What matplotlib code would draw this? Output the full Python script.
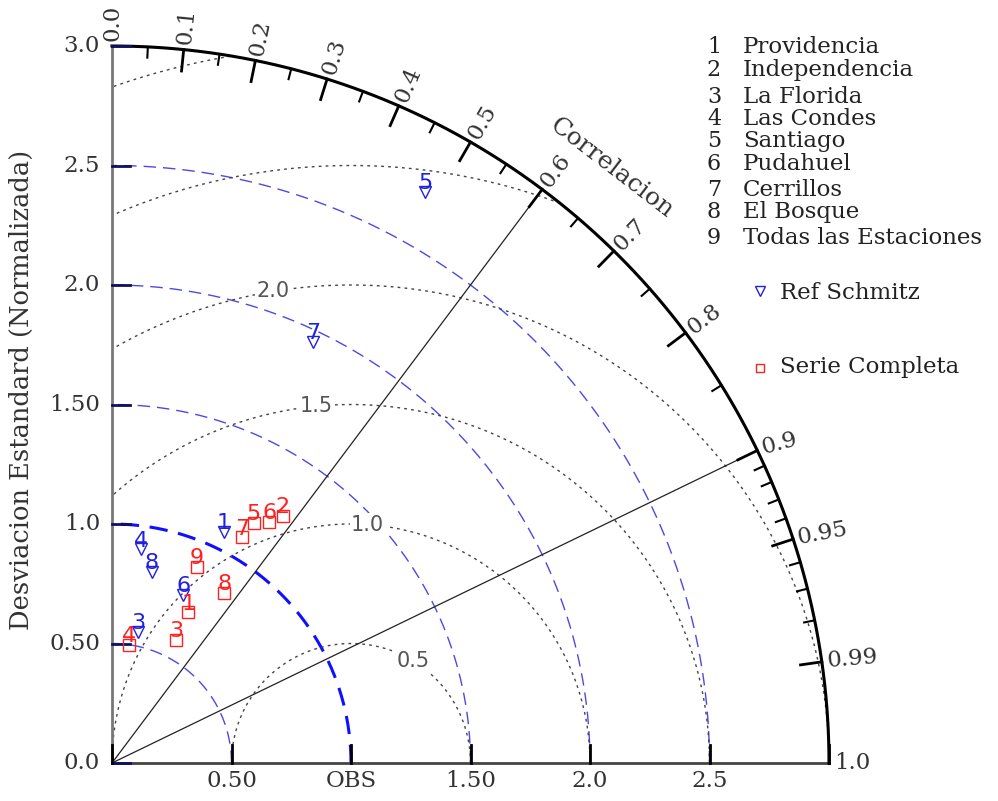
import numpy as np
import matplotlib
matplotlib.use('Agg')
import matplotlib.pyplot as plt

# estaciones (normalizadas respecto a OBS)
estaciones = ['Providencia', 'Independencia', 'La Florida', 'Las Condes', 'Santiago',
              'Pudahuel', 'Cerrillos', 'El Bosque', 'Todas las Estaciones']

# Ref Schmitz (estacion, desv. estandar, correlacion)
ref_id = [1, 4, 8, 6, 3, 5, 7]
ref_std = [1.076, 0.902, 0.817, 0.764, 0.560, 2.727, 1.954]
ref_cor = [0.436, 0.133, 0.203, 0.390, 0.196, 0.481, 0.431]

# Serie Completa
ser_id = [5, 6, 2, 7, 9, 8, 1, 3, 4]
ser_std = [1.166, 1.205, 1.256, 1.090, 0.894, 0.854, 0.706, 0.581, 0.499]
ser_cor = [0.509, 0.546, 0.569, 0.500, 0.396, 0.550, 0.452, 0.461, 0.142]

cor_major = [0.1, 0.2, 0.3, 0.4, 0.5, 0.6, 0.7, 0.8, 0.9, 0.95, 0.99]
cor_minor = [0.05, 0.15, 0.25, 0.35, 0.45, 0.55, 0.65, 0.75, 0.85,
             0.91, 0.92, 0.93, 0.94, 0.96, 0.97, 0.98]
cor_labels = ['0.0', '0.1', '0.2', '0.3', '0.4', '0.5', '0.6', '0.7', '0.8', '0.9', '0.95', '0.99', '1.0']
cor_label_vals = [0.0] + cor_major + [1.0]

std_ticks = [0.0, 0.5, 1.0, 1.5, 2.0, 2.5, 3.0]
std_ylabels = ['0.0', '0.50', '1.0', '1.50', '2.0', '2.5', '3.0']
std_xlabels = ['', '0.50', 'OBS', '1.50', '2.0', '2.5', '']
std_arcs = [0.5, 1.5, 2.0, 2.5]
rms_arcs = [0.5, 1.0, 1.5, 2.0, 2.5, 3.0]
rms_labels = {0.5: 58.8, 1.0: 86.0, 1.5: 95.6, 2.0: 99.4}
cor_lines = [0.6, 0.9]

W, H = 998, 801
X0, Y0, S = 112, 763, 239.0
RMAX = 3.0

fig = plt.figure(figsize=(W / 100, H / 100), dpi=100)
ax = fig.add_axes([0, 0, 1, 1])
ax.set_xlim(-X0 / S, (W - X0) / S)
ax.set_ylim((Y0 - H) / S, Y0 / S)
ax.axis('off')

serif = 'DejaVu Serif'
txtcol = '#333333'

# arcos de desviacion estandar
t = np.linspace(0, np.pi / 2, 400)
for r in std_arcs:
    ax.plot(r * np.cos(t), r * np.sin(t), color='#4a4ae6', lw=1.0, dashes=(9, 5))
ax.plot(np.cos(t), np.sin(t), color='#1010ff', lw=2.2, dashes=(6, 3.5))

# arcos RMS centrados en OBS
tt = np.linspace(0, np.pi, 1500)
for r in rms_arcs:
    x = 1 + r * np.cos(tt)
    y = r * np.sin(tt)
    m = (x < 0) | (x ** 2 + y ** 2 > RMAX ** 2 + 1e-9)
    x[m] = np.nan
    y[m] = np.nan
    ax.plot(x, y, color='#444444', lw=1.0, dashes=(2, 3))
for r, ang in rms_labels.items():
    a = np.radians(ang)
    ax.text(1 + r * np.cos(a), r * np.sin(a), '%.1f' % r, ha='center', va='center',
            fontsize=15, color='#555555', fontfamily='DejaVu Sans',
            bbox=dict(facecolor='white', edgecolor='none', pad=1))

# lineas de correlacion
for c in cor_lines:
    a = np.arccos(c)
    ax.plot([0, RMAX * np.cos(a)], [0, RMAX * np.sin(a)], color='#222222', lw=0.9)

# ejes
ax.plot([0, 0], [0, RMAX], color='#777777', lw=2)
ax.plot([0, RMAX], [0, 0], color='#444444', lw=2)
ax.plot(RMAX * np.cos(t), RMAX * np.sin(t), color='black', lw=2.2)

# ticks de correlacion
for c in cor_major:
    a = np.arccos(c)
    ax.plot([RMAX * np.cos(a), (RMAX - 0.09) * np.cos(a)],
            [RMAX * np.sin(a), (RMAX - 0.09) * np.sin(a)], color='black', lw=2)
for c in cor_minor:
    a = np.arccos(c)
    ax.plot([RMAX * np.cos(a), (RMAX - 0.045) * np.cos(a)],
            [RMAX * np.sin(a), (RMAX - 0.045) * np.sin(a)], color='black', lw=1.5)
for c, lab in zip(cor_label_vals, cor_labels):
    a = np.arccos(c)
    rot = np.degrees(a)
    if 0.85 < c < 1.0:
        rot = rot * 0.58
    ax.text(3.02 * np.cos(a), 3.02 * np.sin(a), lab, rotation=rot,
            rotation_mode='anchor', ha='left', va='center', fontsize=16.5,
            color=txtcol, fontfamily=serif)

a = np.radians(50)
ax.text(3.25 * np.cos(a), 3.25 * np.sin(a), 'Correlacion', rotation=-37.5,
        ha='center', va='center', fontsize=18, color=txtcol, fontfamily=serif)

# ticks de desviacion estandar
for v, ly, lx in zip(std_ticks, std_ylabels, std_xlabels):
    ax.plot([0, 0.075], [v, v], color='#101060', lw=2)
    ax.plot([v, v], [0, 0.075], color='black', lw=2)
    ax.text(-0.05, v, ly, ha='right', va='center', fontsize=16.5, color=txtcol, fontfamily=serif)
    if lx:
        ax.text(v, -0.075, lx, ha='center', va='center', fontsize=16.5, color=txtcol, fontfamily=serif)

ax.text(-0.38, 1.56, 'Desviacion Estandard (Normalizada)', rotation=90, ha='center',
        va='center', fontsize=18.5, color=txtcol, fontfamily=serif)

# puntos
def polar_xy(std, cor):
    std = np.asarray(std)
    cor = np.asarray(cor)
    return std * cor, std * np.sqrt(1 - cor ** 2)

rx, ry = polar_xy(ref_std, ref_cor)
ax.plot(rx, ry, 'v', ms=9, mfc='none', mec='#2020e0', mew=1.0, ls='none')
for i, x, y in zip(ref_id, rx, ry):
    ax.annotate(str(i), (x, y), xytext=(0, 2), textcoords='offset points', ha='center',
                va='baseline', fontsize=16, color='#2020e0', fontfamily='DejaVu Sans')

sx, sy = polar_xy(ser_std, ser_cor)
ax.plot(sx, sy, 's', ms=8, mfc='none', mec='#ff2020', mew=1.0, ls='none')
for i, x, y in zip(ser_id, sx, sy):
    ax.annotate(str(i), (x, y), xytext=(0, 2), textcoords='offset points', ha='center',
                va='baseline', fontsize=16, color='#ff2020', fontfamily='DejaVu Sans')

# leyenda
leg_y = [47, 70, 97, 119, 141, 164, 190, 212, 238]
for k, (name, py) in enumerate(zip(estaciones, leg_y)):
    fig.text(714 / W, 1 - py / H, str(k + 1), ha='center', va='center', fontsize=16,
             color='#222222', fontfamily=serif)
    fig.text(743 / W, 1 - py / H, name, ha='left', va='center', fontsize=16.5,
             color='#222222', fontfamily=serif)

fig.lines.append(plt.Line2D([760 / W], [1 - 291 / H], marker='v', ms=7, mfc='none',
                            mec='#2020e0', mew=1.0, transform=fig.transFigure))
fig.text(780 / W, 1 - 293 / H, 'Ref Schmitz', ha='left', va='center', fontsize=16.5,
         color='#222222', fontfamily=serif)
fig.lines.append(plt.Line2D([760 / W], [1 - 368 / H], marker='s', ms=6, mfc='none',
                            mec='#ff2020', mew=1.0, transform=fig.transFigure))
fig.text(780 / W, 1 - 367 / H, 'Serie Completa', ha='left', va='center', fontsize=16.5,
         color='#222222', fontfamily=serif)

fig.savefig('out.png', dpi=100)
